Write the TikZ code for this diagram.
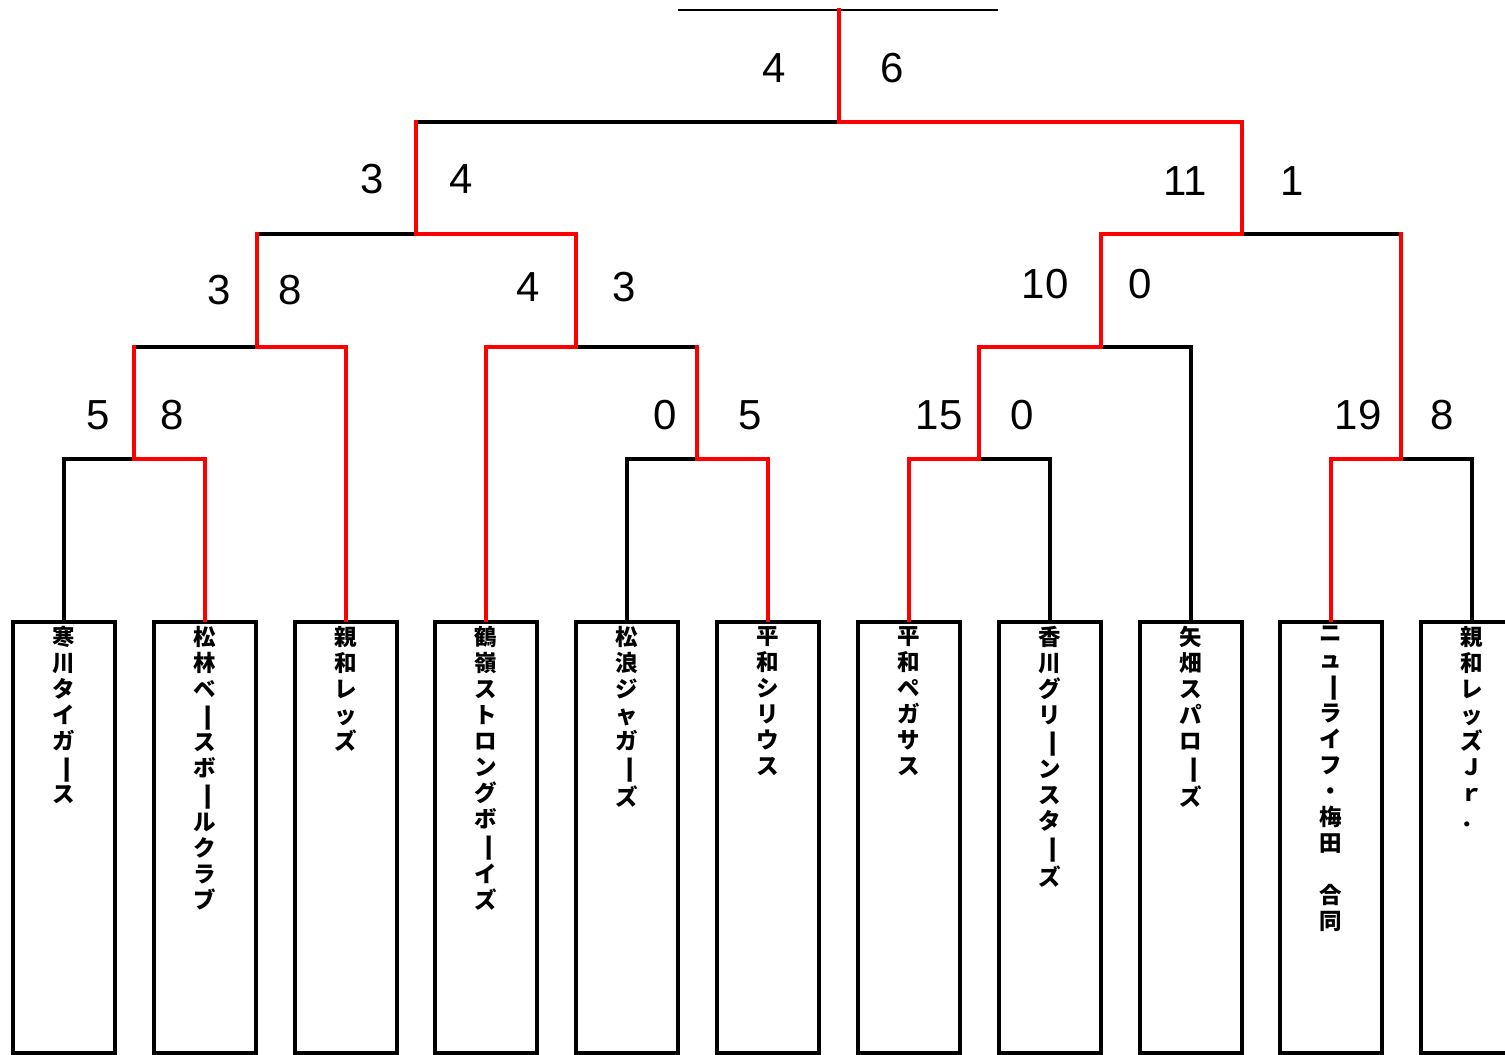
\documentclass[tikz,border=0pt]{standalone}
\usepackage{fontspec}
\usepackage{graphicx}
\usetikzlibrary{positioning}
\newfontfamily\cjk{Noto Sans CJK JP}
\newfontfamily\numfont{Liberation Sans}
\newcommand{\cho}{\rotatebox[origin=c]{-90}{\scalebox{1.3}[1]{ー}}}
\tikzstyle{teambox}=[rectangle,draw=black,line width=4pt,minimum width=102pt,minimum height=431pt,inner sep=0pt]
\tikzstyle{teamname}=[align=center,inner sep=0pt,font=\cjk\bfseries\fontsize{22.5}{26}\selectfont]
\tikzstyle{score}=[inner sep=0pt,font=\numfont\fontsize{42}{42}\selectfont]
\tikzstyle{lose}=[draw=black,line width=3.8pt,line cap=rect]
\tikzstyle{win}=[draw=red,line width=3.8pt,line cap=rect]
\begin{document}
\begin{tikzpicture}[x=1pt,y=-1pt]

  \useasboundingbox (0,0) rectangle (1505,1055);
  \def\boxy{837.5};

  % teams
  \foreach \x/\name/\team in {64/t1/{寒\\川\\タ\\イ\\ガ\\\cho\\ス}, 205/t2/{松\\林\\ベ\\\cho\\ス\\ボ\\\cho\\ル\\ク\\ラ\\ブ},
        346/t3/{親\\和\\レ\\ッ\\ズ}, 486/t4/{鶴\\嶺\\ス\\ト\\ロ\\ン\\グ\\ボ\\\cho\\イ\\ズ}, 627/t5/{松\\浪\\ジ\\ャ\\ガ\\\cho\\ズ},
        768/t6/{平\\和\\シ\\リ\\ウ\\ス}}
  {
    \node[teambox] (\name) at (\x,\boxy) {};
    \node[teamname, below=6pt of \name.north] (\name-l) {\team};
  }
  \foreach \x/\name/\team in {909/t7/{平\\和\\ペ\\ガ\\サ\\ス}, 1050/t8/{香\\川\\グ\\リ\\\cho\\ン\\ス\\タ\\\cho\\ズ},
        1191/t9/{矢\\畑\\ス\\パ\\ロ\\\cho\\ズ}, 1331/t10/{ニ\\ュ\\\cho\\ラ\\イ\\フ\\・\\梅\\田\\　\\合\\同},
        1472/t11/{親\\和\\レ\\ッ\\ズ\\Ｊ\\ｒ\\．}}
  {
    \node[teambox] (\name) at (\x,\boxy) {};
    \node[teamname, below=6pt of \name.north] (\name-l) {\team};
  }

  \foreach \x/\y/\name in {134/459/j1, 697/459/j2, 979/459/j3, 1401/459/j4, 257/347/j5, 576/347/j6,
        1101/347/j7, 416/234/j8, 1242/234/j9, 839/122/j10, 839/10/top, 678/10/topl, 998/10/topr}
    \coordinate (\name) at (\x,\y);

  % losers
  \foreach \src/\dest in {t1.north/j1, t5.north/j2, t8.north/j3, t11.north/j4, t9.north/j7}
    \path[lose] (\src) |- (\dest);
  \foreach \src/\dest in {j1/j5, j2/j6, j5/j8, j4/j9, j8/j10}
    \path[lose] (\src |- \dest) -- (\dest);
  \path[draw, line width=2pt] (topl) -- (topr);

  % winners
  \foreach \src/\dest in {j1/j5, j2/j6, j5/j8, j4/j9, j8/j10}
    \path[win] (\src) -- (\src |- \dest);
  \foreach \src/\dest in {t2.north/j1, t6.north/j2, t7.north/j3, t10.north/j4, t3.north/j5, t4.north/j6,
        j3/j7, j6/j8, j7/j9, j9/j10}
    \path[win] (\src) |- (\dest);
  \path[win] (j10) -- (top);

  % scores
  \foreach \x/\y/\val in {774/68/4, 892/68/6, 372/179/3, 461/179/4, 1185/181/11, 1292/181/1,
        219/290/3, 290/290/8, 528/287/4, 624/287/3, 1045/284/10, 1140/284/0}
    \node[score] (s\x) at (\x,\y) {\val};
  \foreach \x/\y/\val in {98/415/5, 172/415/8, 665/415/0, 750/415/5, 939/415/15, 1022/415/0,
        1358/415/19, 1442/415/8}
    \node[score] (s\x) at (\x,\y) {\val};

\end{tikzpicture}
\end{document}
